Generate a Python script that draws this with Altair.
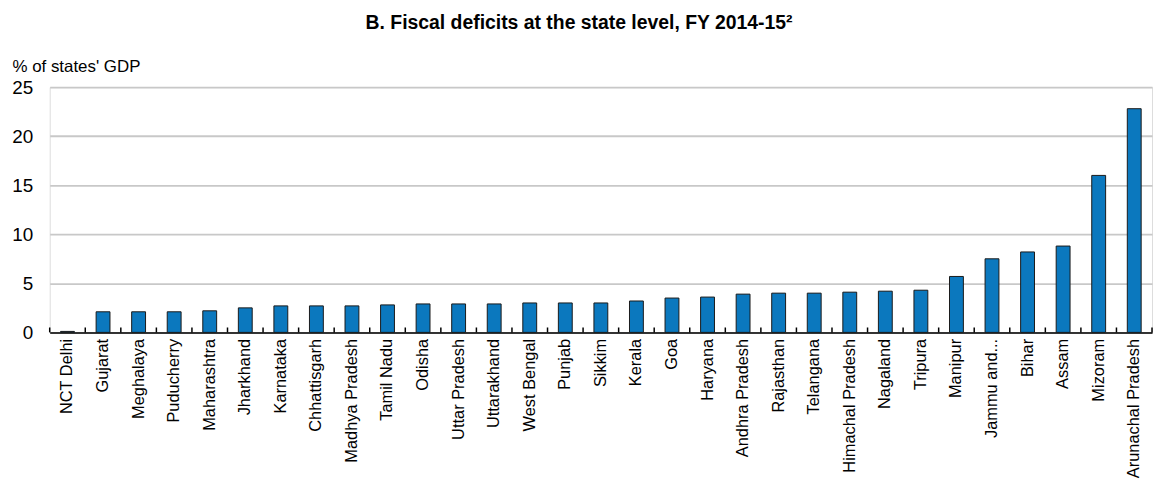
import altair as alt
import pandas as pd

states = ["NCT Delhi", "Gujarat", "Meghalaya", "Puducherry", "Maharashtra", "Jharkhand",
          "Karnataka", "Chhattisgarh", "Madhya Pradesh", "Tamil Nadu", "Odisha",
          "Uttar Pradesh", "Uttarakhand", "West Bengal", "Punjab", "Sikkim", "Kerala",
          "Goa", "Haryana", "Andhra Pradesh", "Rajasthan", "Telangana",
          "Himachal Pradesh", "Nagaland", "Tripura", "Manipur", "Jammu and...",
          "Bihar", "Assam", "Mizoram", "Arunachal Pradesh"]
deficits = [0.1, 2.1, 2.1, 2.1, 2.2, 2.5, 2.7, 2.7, 2.7, 2.8, 2.9, 2.9, 2.9, 3.0, 3.0,
            3.0, 3.2, 3.5, 3.6, 3.9, 4.0, 4.0, 4.1, 4.2, 4.3, 5.7, 7.5, 8.2, 8.8, 16.0, 22.8]
y_ticks = [0, 5, 10, 15, 20, 25]

FONT = "Liberation Sans, Arial, sans-serif"

df = pd.DataFrame({"state": states, "value": deficits})

x_scale = alt.Scale(domain=states, paddingInner=0, paddingOuter=0)
y_scale = alt.Scale(domain=[0, 25], nice=False)

bars = alt.Chart(df).mark_bar(
    width=alt.RelativeBandSize(0.39), color="#0b78be", stroke="#1a1a1a", strokeWidth=1
).encode(
    x=alt.X("state:N", sort=states, scale=x_scale,
            axis=alt.Axis(title=None, labelAngle=-90, labelAlign="right", labelBaseline="middle",
                          labelFont=FONT, labelFontSize=16.5, labelColor="#000",
                          labelPadding=6, ticks=False, domainColor="#000", domainWidth=1.5,
                          grid=False, labelLimit=300)),
    y=alt.Y("value:Q", scale=y_scale,
            axis=alt.Axis(title="% of states' GDP", values=y_ticks, titleAngle=0,
                          titleAlign="left", titleBaseline="alphabetic", titleX=-38, titleY=-16,
                          titleFont=FONT, titleFontSize=17, titleFontWeight="normal",
                          titleColor="#000", labelFont=FONT, labelFontSize=19,
                          labelColor="#000", labelPadding=17, ticks=False, domain=False,
                          gridColor="#c8c8c8", gridWidth=1.8)),
)

ticks = alt.Chart(df).mark_rule(color="#000", strokeWidth=1.5).encode(
    x=alt.X("state:N", sort=states, scale=x_scale, bandPosition=0),
    y=alt.datum(0),
    y2=alt.datum(0.5),
)
last_tick = alt.Chart(df.tail(1)).mark_rule(color="#000", strokeWidth=1.5).encode(
    x=alt.X("state:N", sort=states, scale=x_scale, bandPosition=1),
    y=alt.datum(0),
    y2=alt.datum(0.5),
)

chart = alt.layer(bars, ticks, last_tick).properties(
    width=1110,
    height=247,
    autosize=alt.AutoSizeParams(type="none"),
    padding={"left": 42, "top": 78, "right": 2, "bottom": 150},
    title=alt.TitleParams("B. Fiscal deficits at the state level, FY 2014-15²",
                          font=FONT, fontSize=19.5, fontWeight="bold", color="#000",
                          anchor="middle", offset=24, dx=-22),
).configure_view(stroke=None).configure(background="white")

chart.save("out.html", embed_options={"renderer": "svg", "actions": False})
